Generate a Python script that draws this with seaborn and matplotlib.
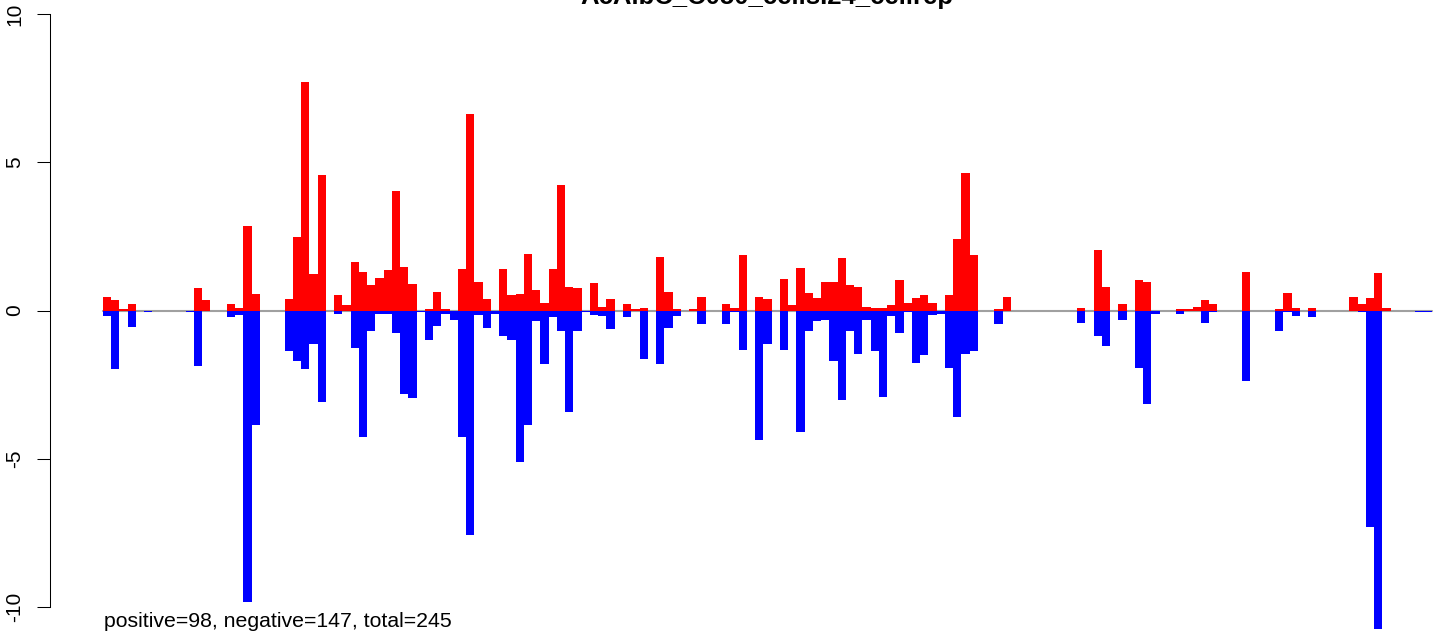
import numpy as np
import pandas as pd
import matplotlib
matplotlib.use('Agg')
import matplotlib.pyplot as plt
import seaborn as sns

title = 'AcAlbC_C050_cellsI24_cellrep'
summary = 'positive=98, negative=147, total=245'

# per-position positive (red) and negative (blue) scores
pos = [0.45, 0.35, 0.06, 0.22, 0, 0, 0, 0, 0, 0,
       0, 0.76, 0.35, 0, 0, 0.22, 0.10, 2.85, 0.55, 0,
       0, 0, 0.39, 2.47, 7.71, 1.23, 4.57, 0, 0.52, 0.18,
       1.63, 1.29, 0.86, 1.10, 1.36, 4.03, 1.46, 0.89, 0, 0.05,
       0.62, 0.05, 0, 1.40, 6.63, 0.95, 0.39, 0, 1.40, 0.52,
       0.55, 1.91, 0.69, 0.25, 1.40, 4.23, 0.78, 0.76, 0, 0.93,
       0.11, 0.39, 0, 0.22, 0.05, 0.08, 0, 1.80, 0.62, 0.05,
       0, 0.05, 0.45, 0, 0, 0.22, 0.08, 1.87, 0, 0.45,
       0.39, 0, 1.06, 0.18, 1.44, 0.59, 0.42, 0.95, 0.95, 1.77,
       0.86, 0.78, 0.11, 0.08, 0.08, 0.18, 1.03, 0.25, 0.42, 0.52,
       0.25, 0, 0.52, 2.41, 4.64, 1.87, 0, 0, 0.05, 0.45,
       0, 0, 0, 0, 0, 0, 0, 0, 0.08, 0,
       2.04, 0.78, 0, 0.22, 0, 1.03, 0.95, 0, 0, 0,
       0.05, 0.05, 0.11, 0.35, 0.22, 0, 0, 0, 1.29, 0,
       0, 0, 0.05, 0.59, 0.09, 0, 0.09, 0, 0, 0,
       0, 0.45, 0.22, 0.41, 1.27, 0.09, 0, 0, 0, 0,
       0]
neg = [-0.18, -1.97, 0, -0.57, 0, -0.06, 0, 0, 0, 0,
       -0.06, -1.87, 0, 0, 0, -0.22, -0.16, -9.86, -3.86, 0,
       0, 0, -1.36, -1.70, -1.97, -1.12, -3.09, 0, -0.11, 0,
       -1.25, -4.29, -0.70, -0.11, -0.11, -0.76, -2.82, -2.94, -0.06, -1.00,
       -0.53, -0.11, -0.31, -4.27, -7.59, -0.16, -0.58, -0.11, -0.87, -1.00,
       -5.13, -3.87, -0.36, -1.81, -0.22, -0.70, -3.44, -0.70, -0.05, -0.16,
       -0.19, -0.63, 0, -0.23, 0, -1.63, 0, -1.81, -0.58, -0.19,
       0, 0, -0.46, 0, 0, -0.46, -0.06, -1.34, 0, -4.38,
       -1.13, 0, -1.34, 0, -4.11, -0.70, -0.36, -0.31, -1.71, -3.03,
       -0.70, -1.47, -0.31, -1.38, -2.93, -0.19, -0.76, -0.06, -1.77, -1.51,
       -0.16, -0.11, -1.94, -3.61, -1.47, -1.38, 0, 0, -0.46, 0,
       0, 0, 0, 0, 0, 0, 0, 0, -0.42, 0,
       -0.87, -1.21, 0, -0.33, 0, -1.94, -3.16, -0.12, 0, 0,
       -0.12, 0, 0, -0.42, -0.06, 0, 0, 0, -2.38, 0,
       0, 0, -0.68, -0.04, -0.18, 0, -0.22, 0, 0, 0,
       0, 0, -0.05, -7.32, -10.76, 0, 0, 0, 0, -0.06,
       -0.06]
yticks = [-10, -5, 0, 5, 10]

n = len(pos)
df = pd.DataFrame({'idx': np.arange(n), 'pos': pos, 'neg': neg})

sns.set_theme(style='white')
plt.rcParams['font.family'] = ['Liberation Sans', 'DejaVu Sans']

W, H = 1444, 636
fig = plt.figure(figsize=(W / 100, H / 100), dpi=100)
# plot region runs past the right and top edges, like the cropped original
ax = fig.add_axes([49.8 / W, 1 - 630.2 / H, 1435.3 / W, 639.4 / H])

ax.plot([-0.5, n - 0.5], [0, 0], color='#a0a0a0', lw=1.5, zorder=1)
sns.barplot(data=df, x='idx', y='pos', color='red', saturation=1,
            width=1, errorbar=None, linewidth=0, ax=ax, zorder=2)
sns.barplot(data=df, x='idx', y='neg', color='blue', saturation=1,
            width=1, errorbar=None, linewidth=0, ax=ax, zorder=2)

pad = 0.04 * n
ax.set_xlim(-0.5 - pad, n - 0.5 + pad)
ax.set_ylim(-10.8, 10.8)
ax.set_xticks([])
ax.set_xlabel('')
ax.set_ylabel('')
ax.set_yticks(yticks)
ax.set_yticklabels([str(t) for t in yticks], rotation=90, va='center')
ax.tick_params(axis='y', length=9.4, width=0.75, pad=9, labelsize=15,
               colors='black', labelcolor='black', left=True)
for s in ['top', 'right', 'bottom']:
    ax.spines[s].set_visible(False)
ax.spines['left'].set_bounds(-10, 10)
ax.spines['left'].set_color('black')
ax.spines['left'].set_linewidth(0.75)
ax.patch.set_alpha(0)

fig.text(767 / W, 1 - 4 / H, title, ha='center', va='baseline',
         fontsize=18.5, fontweight='bold', color='black')
fig.text(104 / W, 1 - 627 / H, summary, ha='left', va='baseline',
         fontsize=15.3, color='black')

fig.savefig('out.png', dpi=100)
